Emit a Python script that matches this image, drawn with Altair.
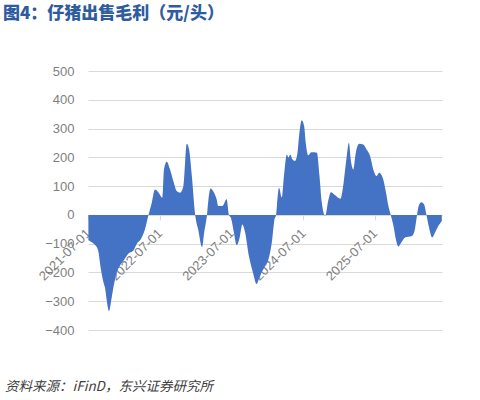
import altair as alt
import pandas as pd

title_text = "图4：仔猪出售毛利（元/头）"
source_text = "资料来源：iFinD，东兴证券研究所"

dates = [
    "2021-07-03", "2021-07-21", "2021-08-06", "2021-08-21", "2021-09-04", "2021-09-18",
    "2021-09-26", "2021-10-05", "2021-10-16", "2021-10-29", "2021-11-08", "2021-11-22",
    "2021-12-12", "2022-01-02", "2022-01-22", "2022-02-16", "2022-03-07", "2022-03-27",
    "2022-04-17", "2022-05-05", "2022-05-21", "2022-06-07", "2022-06-24", "2022-07-15",
    "2022-07-23", "2022-08-06", "2022-08-23", "2022-09-09", "2022-09-26", "2022-10-13",
    "2022-10-30", "2022-11-16", "2022-11-28", "2022-12-12", "2022-12-29", "2023-01-13",
    "2023-02-02", "2023-02-13", "2023-02-27", "2023-03-06", "2023-03-17", "2023-03-30",
    "2023-04-17", "2023-04-25", "2023-05-17", "2023-06-07", "2023-06-19", "2023-06-29",
    "2023-07-14", "2023-07-28", "2023-08-12", "2023-08-26", "2023-09-09", "2023-09-29",
    "2023-10-21", "2023-11-06", "2023-11-24", "2023-12-20", "2024-01-06", "2024-01-23",
    "2024-02-06", "2024-02-14", "2024-02-18", "2024-02-29", "2024-03-14", "2024-03-25",
    "2024-04-09", "2024-04-17", "2024-04-26", "2024-05-07", "2024-05-20", "2024-06-02",
    "2024-06-10", "2024-06-24", "2024-07-06", "2024-07-14", "2024-07-27", "2024-08-11",
    "2024-08-28", "2024-09-09", "2024-09-22", "2024-10-04", "2024-10-21", "2024-11-07",
    "2024-11-19", "2024-12-11", "2025-01-06", "2025-01-23", "2025-02-06", "2025-02-19",
    "2025-02-28", "2025-03-13", "2025-03-26", "2025-04-13", "2025-05-03", "2025-05-20",
    "2025-06-07", "2025-06-23", "2025-07-10", "2025-07-23", "2025-08-10", "2025-08-27",
    "2025-09-08", "2025-09-20", "2025-10-04", "2025-10-16", "2025-10-29", "2025-11-12",
    "2025-12-02", "2025-12-19", "2026-01-06", "2026-01-19", "2026-02-01", "2026-02-09",
    "2026-02-23", "2026-03-09", "2026-03-21", "2026-04-03", "2026-04-19", "2026-05-03",
    "2026-05-20", "2026-06-07",
]

values = [
    -88, -95, -105, -122, -185, -235,
    -255, -300, -335, -290, -250, -205,
    -175, -155, -135, -125, -100, -85,
    -50, 0, 40, 88, 79, 60,
    158, 185, 158, 117, 83, 77,
    100, 247, 227, 135, 0, -50,
    -112, -60, 0, 50, 92, 83,
    54, 31, 31, 54, 0, -10,
    -60, -105, -80, -33, -60, -145,
    -205, -240, -212, -178, -155, -97,
    -15, 0, 31, 94, 60, 135,
    210, 199, 210, 193, 187, 216,
    274, 329, 308, 251, 207, 218,
    218, 216, 135, 42, -3, 54,
    79, 68, 56, 112, 193, 251,
    193, 158, 216, 247, 245, 227,
    204, 158, 135, 146, 129, 77,
    31, 0, -39, -85, -110, -97,
    -79, -76, -73, -56, 0, 31,
    44, 36, 0, -44, -79, -62,
    -39, -21,
]

tick_dates = [
    alt.DateTime(year=2021, month=7, date=1, utc=True),
    alt.DateTime(year=2022, month=7, date=1, utc=True),
    alt.DateTime(year=2023, month=7, date=1, utc=True),
    alt.DateTime(year=2024, month=7, date=1, utc=True),
    alt.DateTime(year=2025, month=7, date=1, utc=True),
]
x_start = alt.DateTime(year=2021, month=7, date=1, utc=True)
x_end = alt.DateTime(year=2026, month=6, date=8, utc=True)
y_ticks = [-400, -300, -200, -100, 0, 100, 200, 300, 400, 500]

df = pd.DataFrame({"date": dates, "value": values})

H = 259
W = 354

area = alt.Chart(df).mark_area(color="#4472C4", interpolate="monotone").encode(
    x=alt.X(
        "date:T",
        scale=alt.Scale(type="utc", domain=[x_start, x_end], nice=False),
        axis=alt.Axis(
            values=tick_dates,
            format="%Y-%m-%d",
            labelAngle=-45,
            labelAlign="right",
            labelBaseline="middle",
            labelColor="#7f7f7f",
            labelFont="Liberation Sans",
            labelFontSize=13,
            labelPadding=11,
            labelFlush=False,
            labelOverlap=False,
            domainColor="#d9d9d9",
            tickColor="#d9d9d9",
            tickSize=5,
            grid=False,
            title=None,
            offset=-(H - H * 500 / 900),
        ),
    ),
    y=alt.Y(
        "value:Q",
        scale=alt.Scale(domain=[-400, 500], nice=False),
        axis=alt.Axis(
            values=y_ticks,
            labelColor="#7f7f7f",
            labelFont="Liberation Sans",
            labelFontSize=13,
            labelPadding=14,
            ticks=False,
            domain=False,
            gridColor="#d9d9d9",
            gridWidth=1,
            title=None,
        ),
    ),
    y2=alt.datum(0),
)

source = alt.Chart(pd.DataFrame({"t": [source_text]})).mark_text(
    align="left",
    baseline="middle",
    font="Noto Sans CJK SC",
    fontStyle="italic",
    fontSize=13.5,
    color="#404040",
).encode(text="t:N", x=alt.value(-83), y=alt.value(316))

chart = alt.layer(area, source).properties(
    width=W,
    height=H,
    title=alt.TitleParams(
        text=title_text,
        anchor="start",
        frame="group",
        dx=-85,
        offset=42,
        font="Noto Sans CJK SC",
        fontSize=17,
        fontWeight=900,
        color="#2E5C9E",
    ),
    padding={"left": 88, "top": 71, "right": 38, "bottom": 70},
    autosize=alt.AutoSizeParams(type="none"),
).configure_view(stroke=None)

chart.save("out.html", embed_options={"renderer": "svg", "actions": False})
